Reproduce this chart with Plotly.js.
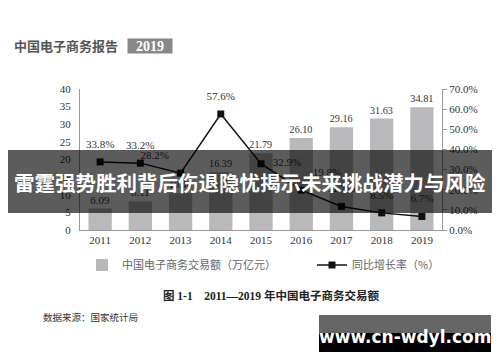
<!DOCTYPE html>
<html>
<head>
<meta charset="utf-8">
<script src="https://cdn.plot.ly/plotly-3.0.1.min.js"></script>
<style>html,body{margin:0;padding:0;background:#fff;}#chart{width:500px;height:362px;}</style>
</head>
<body>
<div id="chart"></div>
<script>
// ---- data ----
const years = ['2011','2012','2013','2014','2015','2016','2017','2018','2019'];
const volume = [6.09, 8.11, 10.40, 16.39, 21.79, 26.10, 29.16, 31.63, 34.81];
const growth = [33.8, 33.2, 28.2, 57.6, 32.9, 19.8, 11.7, 8.5, 6.7];
const volumeName = '中国电子商务交易额（万亿元）';
const growthName = '同比增长率（%）';
const headerText = '中国电子商务报告';
const headerYear = '2019';
const captionText = '图 1-1　2011—2019 年中国电子商务交易额';
const sourceText = '数据来源：国家统计局';
const bannerText = '雷霆强势胜利背后伤退隐忧揭示未来挑战潜力与风险';
const watermarkText = 'www.cn-wdyl.com';

// ---- layout geometry (pixels) ----
const L = 80, R = 442, T = 89, B = 230;
const px = x => (x - L) / (R - L);
const py = y => (B - y) / (B - T);
const serif = 'Liberation Serif, DejaVu Serif, serif';
const cjk = 'Noto Sans CJK SC, sans-serif';

const growthPos = ['top center','top center','top left','top center','middle right','top right','top center','top center','top center'];

const traces = [
  {
    type: 'bar', x: years, y: volume, name: volumeName, legend: 'legend',
    marker: {color: '#b9b9bc'}, width: 0.58,
    text: volume.map(v => v.toFixed(2)), textposition: 'outside',
    textfont: {family: serif, size: 11, color: '#333'}, cliponaxis: false,
    hoverinfo: 'skip'
  },
  {
    type: 'scatter', mode: 'lines+markers', x: years, y: growth, yaxis: 'y2', name: growthName, legend: 'legend2',
    line: {color: '#111', width: 1.5},
    marker: {symbol: 'square', size: 7, color: '#111'},
    cliponaxis: false, hoverinfo: 'skip'
  },
  {
    type: 'scatter', mode: 'markers+text', x: years, y: growth, yaxis: 'y2', showlegend: false,
    marker: {size: 17, opacity: 0},
    text: growth.map(v => v.toFixed(1) + '%'), textposition: growthPos,
    textfont: {family: serif, size: 11, color: '#333'}, cliponaxis: false,
    hoverinfo: 'skip'
  }
];

const legendFont = {family: cjk, size: 11, color: '#666'};
const layout = {
  width: 500, height: 362,
  margin: {l: L, r: 500 - R, t: T, b: 362 - B, pad: 0},
  paper_bgcolor: '#fff', plot_bgcolor: '#fff',
  showlegend: true,
  legend: {
    orientation: 'h', x: px(82), y: py(265), xanchor: 'left', yanchor: 'middle',
    font: legendFont, itemwidth: 30, bgcolor: 'rgba(0,0,0,0)'
  },
  legend2: {
    orientation: 'h', x: px(312), y: py(265), xanchor: 'left', yanchor: 'middle',
    font: legendFont, itemwidth: 30, bgcolor: 'rgba(0,0,0,0)'
  },
  xaxis: {
    type: 'category', range: [-0.5, 8.5], autorange: false,
    showline: true, linecolor: '#999', linewidth: 1,
    ticks: '', showgrid: false, zeroline: false,
    tickfont: {family: serif, size: 11, color: '#333'}
  },
  yaxis: {
    range: [0, 40], dtick: 5, showline: true, linecolor: '#999', linewidth: 1,
    ticks: '', showgrid: false, zeroline: false, ticklabelstandoff: 6,
    tickfont: {family: serif, size: 11, color: '#333'}
  },
  yaxis2: {
    overlaying: 'y', side: 'right', range: [0, 70], dtick: 10,
    tickformat: '.1f', ticksuffix: '%',
    showline: true, linecolor: '#999', linewidth: 1,
    ticks: 'outside', ticklen: 4, tickcolor: '#999',
    showgrid: false, zeroline: false,
    tickfont: {family: serif, size: 11, color: '#333'}
  },
  shapes: [
    {type: 'rect', xref: 'paper', yref: 'paper', x0: px(8), x1: px(492), y0: py(150), y1: py(213),
     fillcolor: 'rgba(0,0,0,0.64)', line: {width: 0}, layer: 'above'},
    {type: 'rect', xref: 'paper', yref: 'paper', x0: px(319), x1: px(491), y0: py(315), y1: py(333),
     fillcolor: '#666', line: {width: 0}, layer: 'above'},
    {type: 'rect', xref: 'paper', yref: 'paper', x0: px(319), x1: px(491), y0: py(333), y1: py(352),
     fillcolor: '#000', line: {width: 0}, layer: 'above'}
  ],
  annotations: [
    {xref: 'paper', yref: 'paper', x: px(12), y: py(46), xanchor: 'left', yanchor: 'middle', showarrow: false,
     text: '<b>' + headerText + '</b>', font: {family: cjk, size: 13, color: '#555'}},
    {xref: 'paper', yref: 'paper', x: px(150), y: py(46), xanchor: 'center', yanchor: 'middle', showarrow: false,
     text: '<b>' + headerYear + '</b>', font: {family: serif, size: 14, color: '#fff'},
     bgcolor: '#888', borderpad: 0, width: 44, height: 14},
    {xref: 'paper', yref: 'paper', x: px(250), y: py(182), xanchor: 'center', yanchor: 'middle', showarrow: false,
     text: '<b>' + bannerText + '</b>', font: {family: cjk, size: 20.5, color: '#fff'}},
    {xref: 'paper', yref: 'paper', x: px(271), y: py(295), xanchor: 'center', yanchor: 'middle', showarrow: false,
     text: '<b>' + captionText + '</b>', font: {family: 'Liberation Serif, Noto Sans CJK SC, serif', size: 11.5, color: '#222'}},
    {xref: 'paper', yref: 'paper', x: px(41), y: py(317), xanchor: 'left', yanchor: 'middle', showarrow: false,
     text: sourceText, font: {family: cjk, size: 9.5, color: '#333'}},
    {xref: 'paper', yref: 'paper', x: px(405), y: py(337), xanchor: 'center', yanchor: 'middle', showarrow: false,
     text: '<b>' + watermarkText + '</b>', font: {family: 'DejaVu Sans, sans-serif', size: 17, color: '#fff'}}
  ]
};

Plotly.newPlot('chart', traces, layout, {displayModeBar: false, staticPlot: true});
</script>
</body>
</html>
